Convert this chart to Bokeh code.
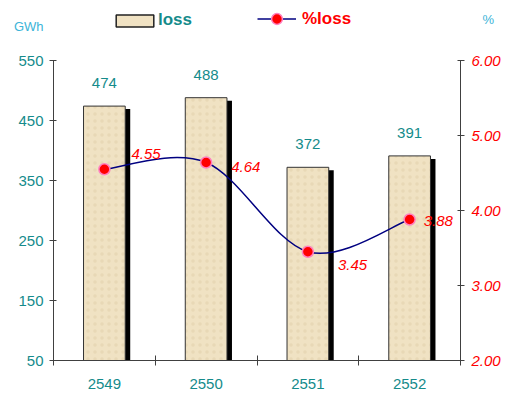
from bokeh.plotting import figure
from bokeh.layouts import column
from bokeh.models import (ColumnDataSource, Range1d, LinearAxis, FixedTicker,
                          PrintfTickFormatter, Legend, LegendItem)
from bokeh.core.properties import value
from bokeh.transform import dodge
from bokeh.embed import file_html
from bokeh.resources import INLINE

# ---------------- data ----------------
years = ["2549", "2550", "2551", "2552"]
loss_gwh = [474, 488, 372, 391]
loss_pct = [4.55, 4.64, 3.45, 3.88]
left_ticks = [50, 150, 250, 350, 450, 550]
right_ticks = [2, 3, 4, 5, 6]
unit_left = "GWh"
unit_right = "%"

# ---------------- styles ----------------
TEAL = "#158b8b"
RED = "#ff0000"
NAVY = "#000080"
LIGHTBLUE = "#3cb4d8"
AX = "#404040"
BAR_FILL = "#f0e2c3"
FONT = "Liberation Sans"
W, HH, HM = 509, 40, 351
BL, BR = 53, 49   # side borders shared by both stacked figures
NAN = float("nan")

# ---------------- header (legend + unit captions) ----------------
hdr = figure(width=W, height=HH, x_range=Range1d(0, 1), y_range=Range1d(0, HH),
             output_backend="svg", toolbar_location=None,
             x_axis_location=None, y_axis_location=None,
             min_border_left=BL, min_border_right=BR, min_border_top=0, min_border_bottom=0)
hdr.outline_line_color = None
hdr.xgrid.visible = False
hdr.ygrid.visible = False

# legend proxies (no visible data)
d_bar = hdr.vbar(x=[NAN], top=[NAN], width=1, fill_color=BAR_FILL,
                 line_color="#222222", line_width=1.5)
d_line = hdr.line(x=[NAN], y=[NAN], line_color=NAVY, line_width=1.5)
d_pt = hdr.scatter(x=[NAN], y=[NAN], size=11, fill_color=RED,
                   line_color="#ff80c0", line_width=1.5)

def make_legend(fig, label, renderers, color, loc, gw, gh, standoff):
    lg = Legend(items=[LegendItem(label=label, renderers=renderers)], location=loc,
                orientation="horizontal", padding=0, margin=0, spacing=0,
                glyph_width=gw, glyph_height=gh, label_height=15, label_standoff=standoff,
                label_text_color=color, label_text_font=FONT,
                label_text_font_size="17px", label_text_font_style="bold",
                label_text_baseline="middle",
                border_line_color=None, background_fill_alpha=0)
    fig.add_layout(lg, "center")

make_legend(hdr, "loss", [d_bar], TEAL, (58, 10), 47, 15, 0)
make_legend(hdr, "%loss", [d_line, d_pt], RED, (204, 8), 39, 27, 6)

def unit_axis(label, ypos, standoff):
    ax = LinearAxis(ticker=FixedTicker(ticks=[ypos]), major_label_overrides={ypos: label})
    ax.axis_line_color = None
    ax.major_tick_line_color = None
    ax.minor_tick_line_color = None
    ax.major_tick_in = 0
    ax.major_tick_out = 0
    ax.major_label_standoff = standoff
    ax.major_label_text_color = LIGHTBLUE
    ax.major_label_text_font = FONT
    ax.major_label_text_font_size = "13px"
    return ax

hdr.add_layout(unit_axis(unit_left, 14, 10), "left")
hdr.add_layout(unit_axis(unit_right, 21, 22), "right")

# ---------------- main chart ----------------
xs = [i + 0.5 for i in range(len(years))]
boundaries = list(range(len(years) + 1))

p = figure(width=W, height=HM, x_range=Range1d(0, len(years)),
           y_range=Range1d(left_ticks[0], left_ticks[-1]),
           output_backend="svg", toolbar_location=None)
p.extra_y_ranges = {"pct": Range1d(right_ticks[0], right_ticks[-1])}
p.min_border_left = BL
p.min_border_right = BR
p.min_border_top = 20
p.min_border_bottom = 31
p.outline_line_color = None
p.xgrid.visible = False
p.ygrid.visible = False

src = ColumnDataSource(dict(x=xs, top=loss_gwh, shadow_top=[v - 5 for v in loss_gwh],
                            lbl=[str(v) for v in loss_gwh]))

p.vbar(x=dodge("x", 0.049, range=p.x_range), top="shadow_top", bottom=left_ticks[0],
       width=0.41, source=src, fill_color="black", line_color=None)
p.vbar(x="x", top="top", bottom=left_ticks[0], width=0.41, source=src,
       fill_color=BAR_FILL, line_color="#333333", line_width=1,
       hatch_pattern="dot", hatch_color="#d9c69e", hatch_alpha=0.35, hatch_scale=7)

p.text(x="x", y="top", text="lbl", source=src, text_align="center",
       text_baseline="middle", y_offset=-23, text_color=TEAL,
       text_font=value(FONT), text_font_size="15px")

# smoothed %loss line (Catmull-Rom -> cubic bezier through the data points)
n = len(xs)
bz = dict(x0=[], y0=[], x1=[], y1=[], cx0=[], cy0=[], cx1=[], cy1=[])
for i in range(n - 1):
    pm = i - 1 if i > 0 else i
    pp = i + 2 if i + 2 < n else i + 1
    bz["x0"].append(xs[i]); bz["y0"].append(loss_pct[i])
    bz["x1"].append(xs[i + 1]); bz["y1"].append(loss_pct[i + 1])
    bz["cx0"].append(xs[i] + (xs[i + 1] - xs[pm]) / 6)
    bz["cy0"].append(loss_pct[i] + (loss_pct[i + 1] - loss_pct[pm]) / 6)
    bz["cx1"].append(xs[i + 1] - (xs[pp] - xs[i]) / 6)
    bz["cy1"].append(loss_pct[i + 1] - (loss_pct[pp] - loss_pct[i]) / 6)
p.bezier(source=ColumnDataSource(bz), x0="x0", y0="y0", x1="x1", y1="y1",
         cx0="cx0", cy0="cy0", cx1="cx1", cy1="cy1",
         line_color=NAVY, line_width=1.5, y_range_name="pct")

psrc = ColumnDataSource(dict(x=xs, y=loss_pct, lbl=[f"{v:.2f}" for v in loss_pct],
                             dx=[27, 25, 30, 14], dy=[-15, 4, 13, 1]))
p.scatter(x="x", y="y", source=psrc, size=11, fill_color=RED,
          line_color="#ff80c0", line_width=1.5, y_range_name="pct")
p.text(x="x", y="y", text="lbl", source=psrc, x_offset="dx", y_offset="dy",
       text_align="left", text_baseline="middle", text_color=RED,
       text_font=value(FONT), text_font_size="15px", text_font_style="italic",
       y_range_name="pct")

# ---------------- axes ----------------
ya = p.yaxis[0]
ya.ticker = FixedTicker(ticks=left_ticks)
ya.axis_line_color = AX
ya.major_tick_line_color = AX
ya.major_tick_in = 3
ya.major_tick_out = 4
ya.minor_tick_line_color = None
ya.major_label_text_color = TEAL
ya.major_label_text_font = FONT
ya.major_label_text_font_size = "15px"
ya.major_label_standoff = 6

ra = LinearAxis(y_range_name="pct", ticker=FixedTicker(ticks=right_ticks),
                formatter=PrintfTickFormatter(format="%.2f"))
ra.axis_line_color = AX
ra.major_tick_line_color = AX
ra.major_tick_in = 3
ra.major_tick_out = 4
ra.minor_tick_line_color = None
ra.major_label_text_color = RED
ra.major_label_text_font = FONT
ra.major_label_text_font_size = "15px"
ra.major_label_text_font_style = "italic"
ra.major_label_standoff = 7
p.add_layout(ra, "right")

xa = p.xaxis[0]
xa.ticker = FixedTicker(ticks=xs, minor_ticks=boundaries)
xa.major_label_overrides = {x: y for x, y in zip(xs, years)}
xa.axis_line_color = AX
xa.major_tick_line_color = None
xa.major_tick_in = 0
xa.major_tick_out = 0
xa.minor_tick_line_color = AX
xa.minor_tick_in = 5
xa.minor_tick_out = 5
xa.major_label_text_color = TEAL
xa.major_label_text_font = FONT
xa.major_label_text_font_size = "15px"
xa.major_label_standoff = 13

layout = column(hdr, p, spacing=0)
open("out.html", "w").write(file_html(layout, INLINE))
